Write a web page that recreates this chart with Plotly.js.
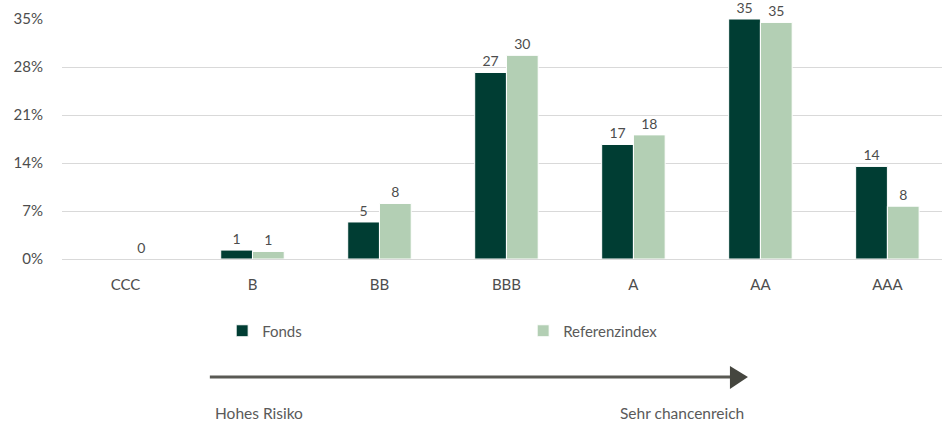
<!DOCTYPE html>
<html>
<head>
<meta charset="utf-8">
<script src="https://cdn.plot.ly/plotly-3.0.1.min.js"></script>
<style>html,body{margin:0;padding:0;background:#fff;}#chart{width:942px;height:425px;}</style>
</head>
<body>
<div id="chart"></div>
<script>
const categories = ["CCC", "B", "BB", "BBB", "A", "AA", "AAA"];
const fondsValues = [null, 1.3, 5.4, 27.2, 16.7, 35.0, 13.5];
const refValues = [0, 1.1, 8.1, 29.7, 18.1, 34.5, 7.7];
const yTickVals = [0, 7, 14, 21, 28, 35];
const yTickText = ["0%", "7%", "14%", "21%", "28%", "35%"];
const seriesNames = ["Fonds", "Referenzindex"];
const arrowLabels = ["Hohes Risiko", "Sehr chancenreich"];

const fmt = v => (v === null ? "" : String(Math.round(v)));
const FONT = "Lato, 'Open Sans', sans-serif";
const TXT = "#4d4d4d";

const traces = [
  {
    type: "bar", name: seriesNames[0], x: categories, y: fondsValues,
    text: fondsValues.map(fmt), textposition: "outside", cliponaxis: false,
    textfont: {family: FONT, size: 14, color: TXT},
    marker: {color: "#003d33", line: {color: "#ffffff", width: 1}},
    hoverinfo: "x+y"
  },
  {
    type: "bar", name: seriesNames[1], x: categories, y: refValues,
    text: refValues.map(fmt), textposition: "outside", cliponaxis: false,
    textfont: {family: FONT, size: 14, color: TXT},
    marker: {color: "#b3cfb4", line: {color: "#ffffff", width: 1}},
    hoverinfo: "x+y"
  }
];

const PT = 19, PB = 166, PH = 425 - PT - PB;
const py = px => (425 - PB - px) / PH;   // pixel row -> paper y

const layout = {
  width: 942, height: 425,
  margin: {l: 62, r: 0, t: PT, b: PB},
  paper_bgcolor: "#ffffff", plot_bgcolor: "#ffffff",
  font: {family: FONT, size: 14, color: "#5a5a5a"},
  barmode: "group", bargap: 0.5, bargroupgap: 0.0,
  showlegend: true,
  legend: {
    orientation: "h", x: 0.182, xanchor: "left", y: py(331), yanchor: "middle",
    entrywidth: 256, entrywidthmode: "pixels",
    font: {family: FONT, size: 15, color: "#5a5a5a"}, traceorder: "normal"
  },
  xaxis: {
    type: "category", range: [-0.5, 6.43],
    showgrid: false, zeroline: false, showline: false,
    ticks: "outside", ticklen: 12, tickcolor: "rgba(0,0,0,0)",
    tickfont: {family: FONT, size: 15, color: TXT}, fixedrange: true
  },
  yaxis: {
    range: [0, 35], tickvals: yTickVals, ticktext: yTickText,
    showgrid: true, gridcolor: "#d9d9d9", gridwidth: 1,
    zeroline: true, zerolinecolor: "#d9d9d9", zerolinewidth: 1,
    showline: false, ticks: "", ticklabelstandoff: 18,
    tickfont: {family: FONT, size: 15, color: TXT}, fixedrange: true
  },
  shapes: [
    {type: "line", xref: "paper", yref: "paper", x0: 0.168, x1: 0.762, y0: py(377), y1: py(377),
     line: {color: "#5a5a54", width: 3}},
    {type: "path", xref: "paper", yref: "paper",
     path: `M 0.759 ${py(366)} L 0.7795 ${py(377)} L 0.759 ${py(389)} Z`,
     fillcolor: "#45463f", line: {color: "#45463f", width: 0}}
  ],
  annotations: [
    {xref: "paper", yref: "paper", x: 0.172, y: py(413), xanchor: "left", yanchor: "middle",
     text: arrowLabels[0], showarrow: false, font: {family: FONT, size: 15.5, color: "#5a5a5a"}},
    {xref: "paper", yref: "paper", x: 0.777, y: py(413), xanchor: "right", yanchor: "middle",
     text: arrowLabels[1], showarrow: false, font: {family: FONT, size: 15.5, color: "#5a5a5a"}}
  ]
};

Plotly.newPlot("chart", traces, layout, {displayModeBar: false, staticPlot: true});
</script>
</body>
</html>
